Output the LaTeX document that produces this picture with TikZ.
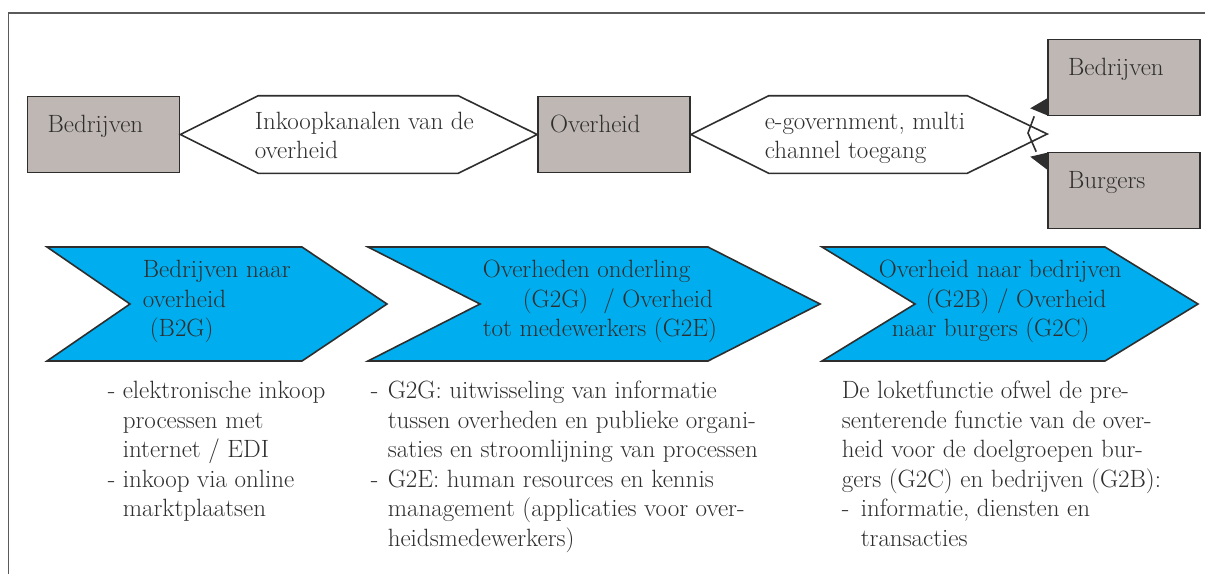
\documentclass[tikz,border=0pt]{standalone}
\usepackage{fontspec}
\usetikzlibrary{calc}
\definecolor{ink}{HTML}{2E2E2E}
\definecolor{boxgrey}{HTML}{BFB7B4}
\definecolor{chevblue}{HTML}{00AEEF}
\definecolor{framegrey}{HTML}{5A5A5A}
\newcommand{\itm}[1]{\makebox[#1][l]{-}}

\begin{document}
\begin{tikzpicture}
	[x=1pt, y=-1pt, line width=1.6pt,
	every node/.style = {
		font=\fontsize{25}{29.5}\selectfont,
		text=ink
	},
	box/.style = {
		draw=ink, fill=boxgrey,
		minimum width=152pt,
		minimum height=76pt,
		inner xsep=20pt, inner ysep=0pt,
		text width=112pt, align=left,
		text height=16pt, text depth=20pt
	},
	hexa/.style = {
		draw=ink, fill=white
	},
	chevron/.style = {
		draw=ink, fill=chevblue
	},
	link/.style = {
		draw=ink
	},
	txt/.style = {
		align=left, inner sep=0pt, anchor=north west
	}]
	\useasboundingbox (0,0) rectangle (1205,574);

	%Draw frame
	\draw[framegrey, line width=1.8pt] (8.4,574) -- (8.4,12.7) -- (1205,12.7);

	%Draw boxes
	\node[box] at (103.5,134.5) (bedr) {Bedrijven};
	\node[box,inner xsep=12pt,text width=128pt] at (614,134.5) (overh) {Overheid};
	\node[box] at (1124,77.5) (bedr2) {Bedrijven};
	\node[box] at (1124,190.5) (burg) {Burgers};

	\coordinate (gap) at ($(bedr2.south west)!0.5!(burg.north west)$);
	\coordinate (fork) at (1028,133);

	%Draw channels
	\draw[hexa] (bedr.east) -- ([xshift=78pt]bedr.north east) -- ([xshift=-79pt]overh.north west)
		-- (overh.west) -- ([xshift=-79pt]overh.south west) -- ([xshift=78pt]bedr.south east) -- cycle;
	\draw[hexa] (overh.east) -- ([xshift=78pt]overh.north east) -- ($(gap |- overh.north)+(-80,0)$)
		-- (gap) -- ($(gap |- overh.south)+(-80,0)$) -- ([xshift=78pt]overh.south east) -- cycle;

	\node[txt] at (254,111) (kanaal) {Inkoopkanalen van de\\overheid};
	\node[txt] at (764,111) (egov) {e-government, multi\\channel toegang};

	%Draw split to Bedrijven and Burgers
	\draw[link] ([xshift=-13pt]bedr2.south west) -- (fork) -- ([xshift=-11pt]burg.north west);
	\fill[ink] ([yshift=1pt]bedr2.south west) -- ([yshift=18pt]bedr2.south west)
		-- ([xshift=-17pt,yshift=8pt]bedr2.south west) -- cycle;
	\fill[ink] ([yshift=-1pt]burg.north west) -- ([yshift=-18pt]burg.north west)
		-- ([xshift=-17pt,yshift=-5pt]burg.north west) -- cycle;

	%Draw chevrons
	\draw[chevron] (47,247) -- (302,247) -- (387,304) -- (302,361) -- (47,361) -- (130,304) -- cycle;
	\draw[chevron] (368,247) -- (708,247) -- (820,304) -- (708,361) -- (368,361) -- (480,304) -- cycle;
	\draw[chevron] (822,247) -- (1105,247) -- (1198,304) -- (1105,361) -- (822,361) -- (915,304) -- cycle;

	\node[txt] at (142,259.5) (b2g) {Bedrijven naar\\overheid\\\hspace*{7pt}(B2G)};
	\node[txt] at (482,259.5) (g2g) {Overheden onderling\\\hspace*{40pt}(G2G) \ / Overheid\\tot medewerkers (G2E)};
	\node[txt] at (878,259.5) (g2b) {Overheid naar bedrijven\\\hspace*{47pt}(G2B) / Overheid\\\hspace*{13pt}naar burgers (G2C)};

	%Draw descriptions
	\node[txt] at (107,380.5) (desc1) {\itm{15pt}elektronische inkoop\\\hspace*{15pt}processen met\\\hspace*{15pt}internet / EDI\\\itm{15pt}inkoop via online\\\hspace*{15pt}marktplaatsen};
	\node[txt] at (370,380.5) (desc2) {\itm{17pt}G2G: uitwisseling van informatie\\\hspace*{17pt}tussen overheden en publieke organi-\\\hspace*{17pt}saties en stroomlijning van processen\\\itm{17pt}G2E: human resources en kennis\\\hspace*{17pt}management (applicaties voor over-\\\hspace*{17pt}heidsmedewerkers)};
	\node[txt] at (841,380.5) (desc3) {De loketfunctie ofwel de pre-\\senterende functie van de over-\\heid voor de doelgroepen bur-\\gers (G2C) en bedrijven (G2B):\\\itm{19pt}informatie, diensten en\\\hspace*{19pt}transacties};

\end{tikzpicture}
\end{document}
